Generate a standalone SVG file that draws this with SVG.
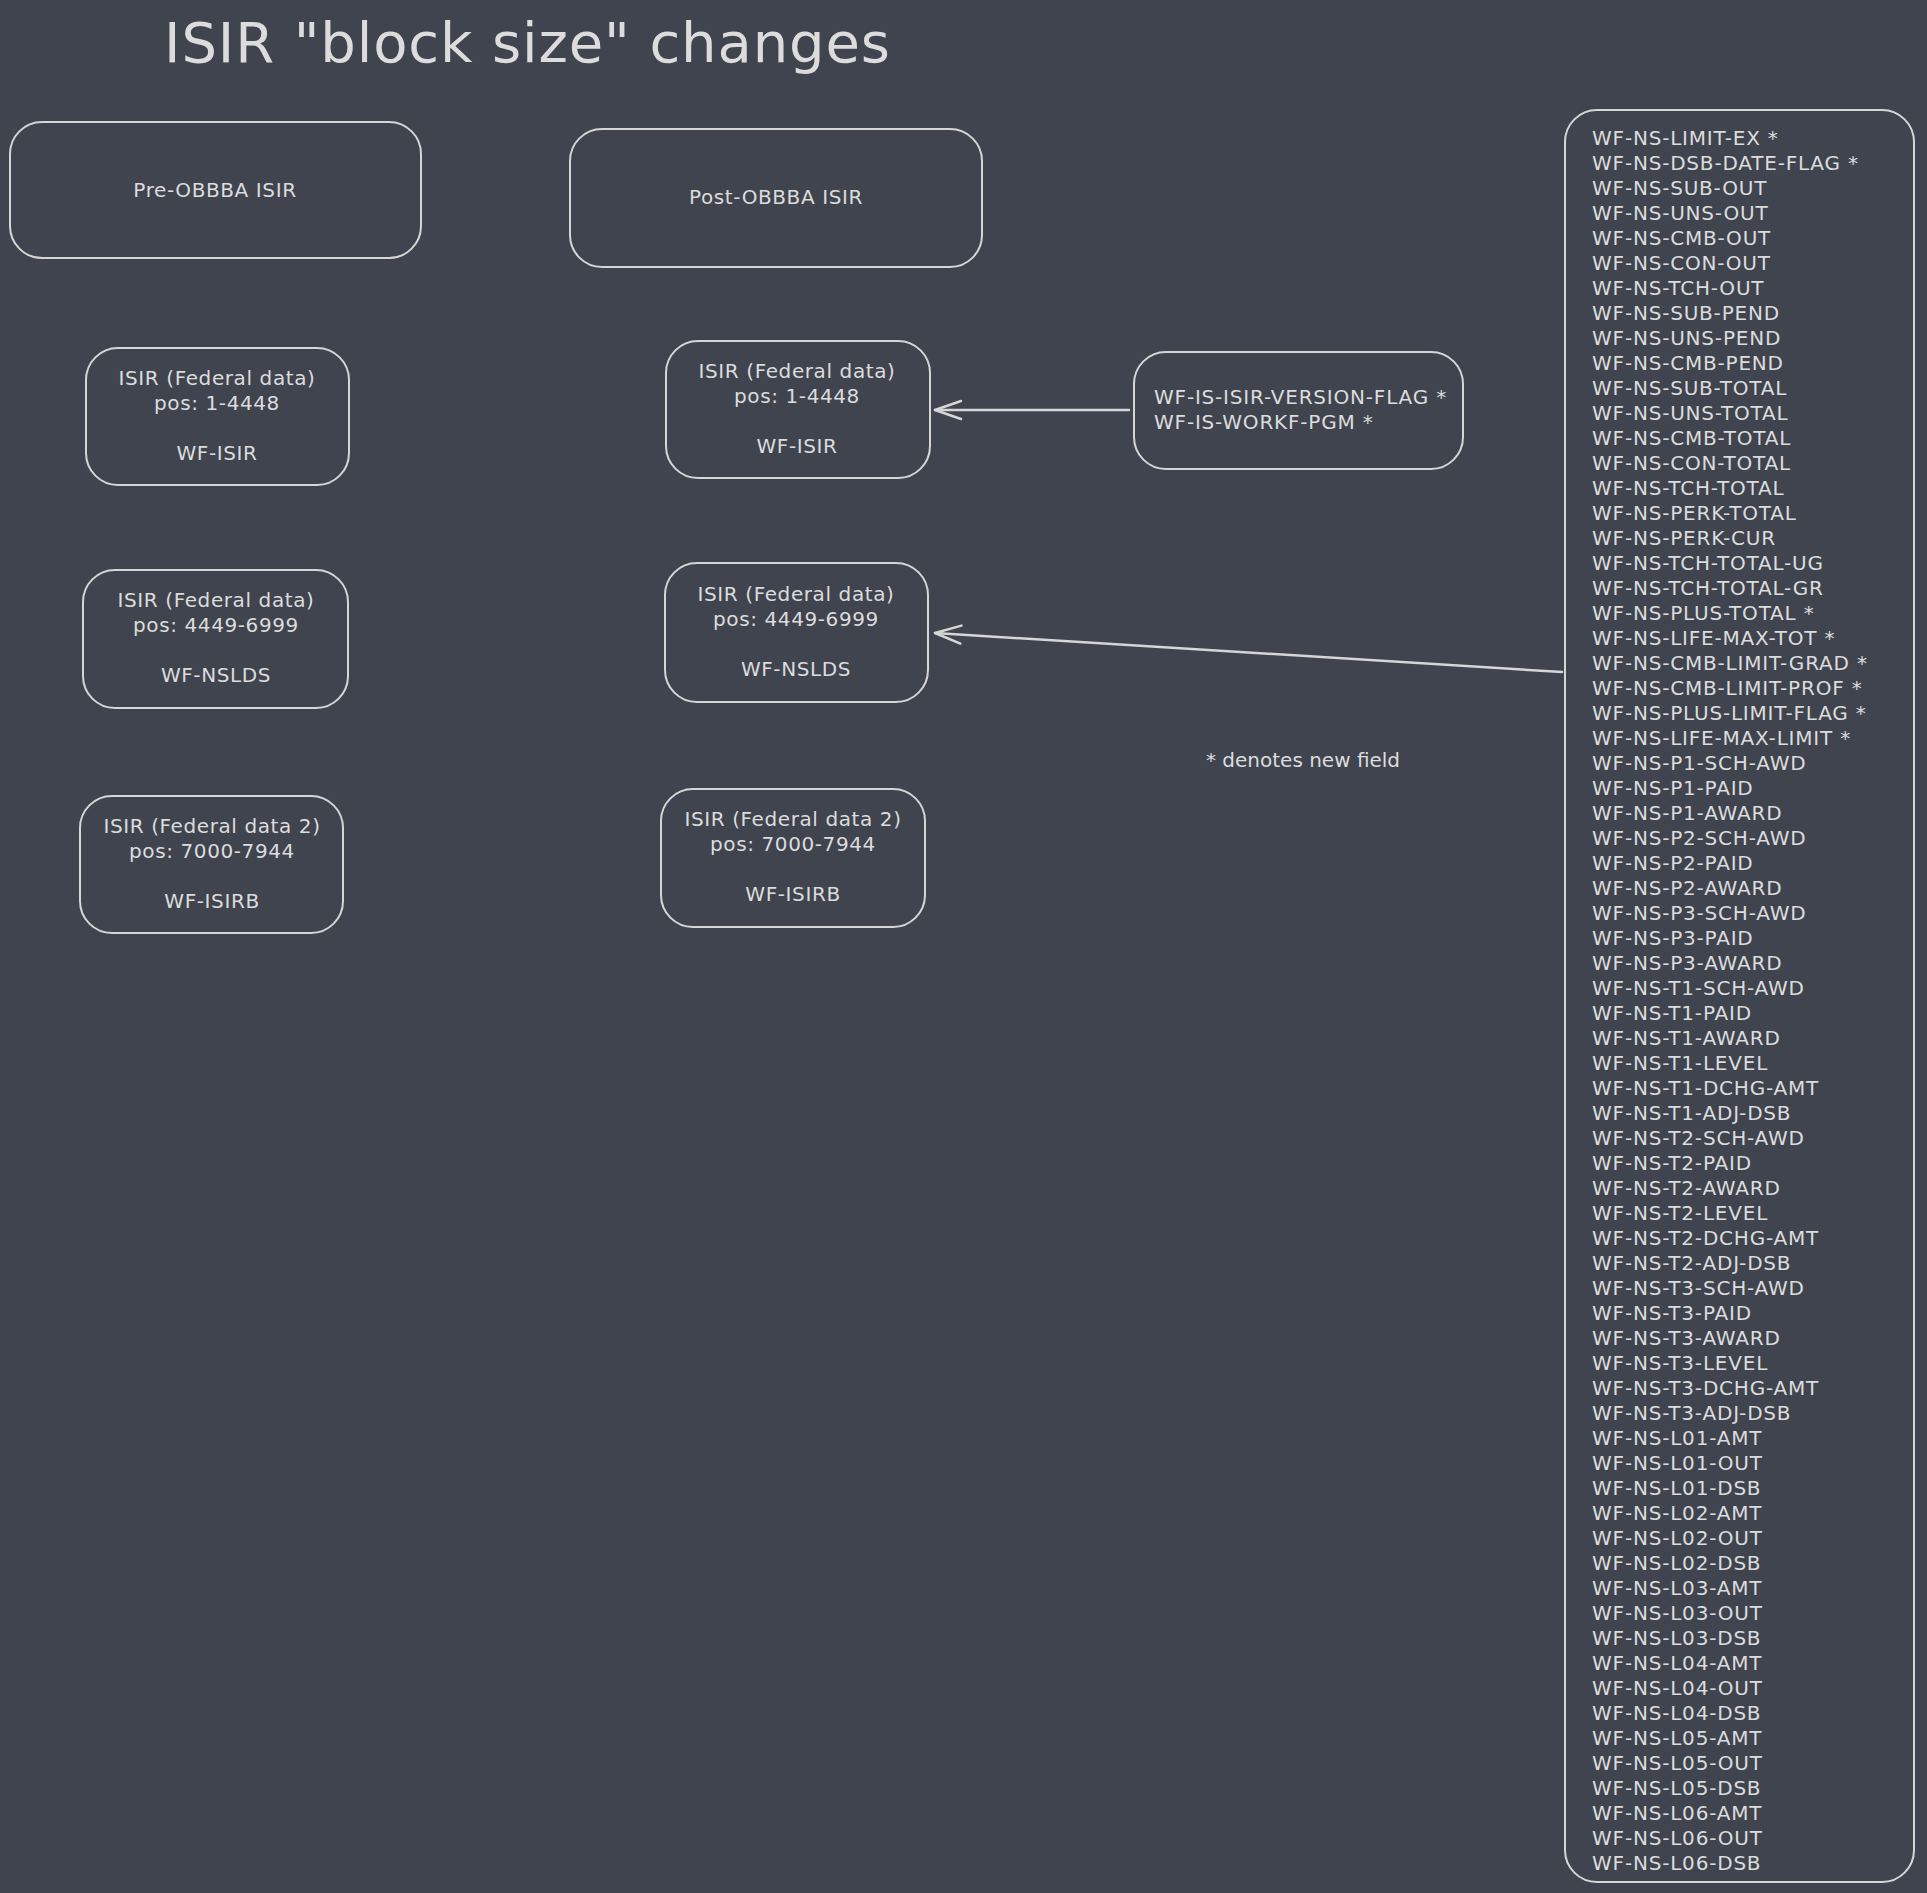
<svg xmlns="http://www.w3.org/2000/svg" width="1927" height="1893" viewBox="0 0 1927 1893">
<style>
.bg{fill:#40444f}
.box{fill:none;stroke:#d6d6d6;stroke-width:2}
.t{font-family:"DejaVu Sans","Liberation Sans",sans-serif;font-size:20px;fill:#dcdcdc;letter-spacing:0.6px}
.u{letter-spacing:0.8px}
.n{letter-spacing:0}
.c{text-anchor:middle}
.title{font-family:"DejaVu Sans","Liberation Sans",sans-serif;font-size:56px;fill:#dcdcdc}
.conn{fill:none;stroke:#d6d6d6;stroke-width:2.5;stroke-linecap:round}
</style>
<defs>
<marker id="arrow" viewBox="-30 -12 34 24" markerWidth="34" markerHeight="24" refX="0" refY="0" orient="auto" markerUnits="userSpaceOnUse">
<path d="M-26,-9 L0,0 L-26,9" fill="none" stroke="#d6d6d6" stroke-width="2.5" stroke-linecap="round" stroke-linejoin="round"/>
</marker>
</defs>
<rect class="bg" x="0" y="0" width="1927" height="1893"/>

<text class="title" x="164" y="62" textLength="726">ISIR "block size" changes</text>

<g id="pre-obbba">
<rect class="box" x="10" y="122" width="411" height="136" rx="32"/>
<text class="t c" x="215" y="197">Pre-OBBBA ISIR</text>
</g>
<g id="post-obbba">
<rect class="box" x="570" y="129" width="412" height="138" rx="32"/>
<text class="t c" x="776" y="204">Post-OBBBA ISIR</text>
</g>

<g id="pre-isir">
<rect class="box" x="86" y="348" width="263" height="137" rx="32"/>
<text class="t c" x="217" y="385">ISIR (Federal data)</text>
<text class="t c" x="217" y="410">pos: 1-4448</text>
<text class="t c" x="217" y="460">WF-ISIR</text>
</g>
<g id="pre-nslds">
<rect class="box" x="83" y="570" width="265" height="138" rx="32"/>
<text class="t c" x="216" y="607">ISIR (Federal data)</text>
<text class="t c" x="216" y="632">pos: 4449-6999</text>
<text class="t c" x="216" y="682">WF-NSLDS</text>
</g>
<g id="pre-isirb">
<rect class="box" x="80" y="796" width="263" height="137" rx="32"/>
<text class="t c" x="212" y="833">ISIR (Federal data 2)</text>
<text class="t c" x="212" y="858">pos: 7000-7944</text>
<text class="t c" x="212" y="908">WF-ISIRB</text>
</g>

<g id="post-isir">
<rect class="box" x="666" y="341" width="264" height="137" rx="32"/>
<text class="t c" x="797" y="378">ISIR (Federal data)</text>
<text class="t c" x="797" y="403">pos: 1-4448</text>
<text class="t c" x="797" y="453">WF-ISIR</text>
</g>
<g id="post-nslds">
<rect class="box" x="665" y="563" width="263" height="139" rx="32"/>
<text class="t c" x="796" y="601">ISIR (Federal data)</text>
<text class="t c" x="796" y="626">pos: 4449-6999</text>
<text class="t c" x="796" y="676">WF-NSLDS</text>
</g>
<g id="post-isirb">
<rect class="box" x="661" y="789" width="264" height="138" rx="32"/>
<text class="t c" x="793" y="826">ISIR (Federal data 2)</text>
<text class="t c" x="793" y="851">pos: 7000-7944</text>
<text class="t c" x="793" y="901">WF-ISIRB</text>
</g>

<g id="isir-new-fields">
<rect class="box" x="1134" y="352" width="329" height="117" rx="32"/>
<text class="t u" x="1154" y="404">WF-IS-ISIR-VERSION-FLAG *</text>
<text class="t u" x="1154" y="429">WF-IS-WORKF-PGM *</text>
</g>

<g id="legend">
<text class="t n" x="1206" y="767">* denotes new field</text>
</g>

<g id="nslds-fields" class="u">
<rect class="box" x="1565" y="110" width="349" height="1772" rx="32"/>
<text class="t u" x="1592" y="145">WF-NS-LIMIT-EX *</text>
<text class="t u" x="1592" y="170">WF-NS-DSB-DATE-FLAG *</text>
<text class="t u" x="1592" y="195">WF-NS-SUB-OUT</text>
<text class="t u" x="1592" y="220">WF-NS-UNS-OUT</text>
<text class="t u" x="1592" y="245">WF-NS-CMB-OUT</text>
<text class="t u" x="1592" y="270">WF-NS-CON-OUT</text>
<text class="t u" x="1592" y="295">WF-NS-TCH-OUT</text>
<text class="t u" x="1592" y="320">WF-NS-SUB-PEND</text>
<text class="t u" x="1592" y="345">WF-NS-UNS-PEND</text>
<text class="t u" x="1592" y="370">WF-NS-CMB-PEND</text>
<text class="t u" x="1592" y="395">WF-NS-SUB-TOTAL</text>
<text class="t u" x="1592" y="420">WF-NS-UNS-TOTAL</text>
<text class="t u" x="1592" y="445">WF-NS-CMB-TOTAL</text>
<text class="t u" x="1592" y="470">WF-NS-CON-TOTAL</text>
<text class="t u" x="1592" y="495">WF-NS-TCH-TOTAL</text>
<text class="t u" x="1592" y="520">WF-NS-PERK-TOTAL</text>
<text class="t u" x="1592" y="545">WF-NS-PERK-CUR</text>
<text class="t u" x="1592" y="570">WF-NS-TCH-TOTAL-UG</text>
<text class="t u" x="1592" y="595">WF-NS-TCH-TOTAL-GR</text>
<text class="t u" x="1592" y="620">WF-NS-PLUS-TOTAL *</text>
<text class="t u" x="1592" y="645">WF-NS-LIFE-MAX-TOT *</text>
<text class="t u" x="1592" y="670">WF-NS-CMB-LIMIT-GRAD *</text>
<text class="t u" x="1592" y="695">WF-NS-CMB-LIMIT-PROF *</text>
<text class="t u" x="1592" y="720">WF-NS-PLUS-LIMIT-FLAG *</text>
<text class="t u" x="1592" y="745">WF-NS-LIFE-MAX-LIMIT *</text>
<text class="t u" x="1592" y="770">WF-NS-P1-SCH-AWD</text>
<text class="t u" x="1592" y="795">WF-NS-P1-PAID</text>
<text class="t u" x="1592" y="820">WF-NS-P1-AWARD</text>
<text class="t u" x="1592" y="845">WF-NS-P2-SCH-AWD</text>
<text class="t u" x="1592" y="870">WF-NS-P2-PAID</text>
<text class="t u" x="1592" y="895">WF-NS-P2-AWARD</text>
<text class="t u" x="1592" y="920">WF-NS-P3-SCH-AWD</text>
<text class="t u" x="1592" y="945">WF-NS-P3-PAID</text>
<text class="t u" x="1592" y="970">WF-NS-P3-AWARD</text>
<text class="t u" x="1592" y="995">WF-NS-T1-SCH-AWD</text>
<text class="t u" x="1592" y="1020">WF-NS-T1-PAID</text>
<text class="t u" x="1592" y="1045">WF-NS-T1-AWARD</text>
<text class="t u" x="1592" y="1070">WF-NS-T1-LEVEL</text>
<text class="t u" x="1592" y="1095">WF-NS-T1-DCHG-AMT</text>
<text class="t u" x="1592" y="1120">WF-NS-T1-ADJ-DSB</text>
<text class="t u" x="1592" y="1145">WF-NS-T2-SCH-AWD</text>
<text class="t u" x="1592" y="1170">WF-NS-T2-PAID</text>
<text class="t u" x="1592" y="1195">WF-NS-T2-AWARD</text>
<text class="t u" x="1592" y="1220">WF-NS-T2-LEVEL</text>
<text class="t u" x="1592" y="1245">WF-NS-T2-DCHG-AMT</text>
<text class="t u" x="1592" y="1270">WF-NS-T2-ADJ-DSB</text>
<text class="t u" x="1592" y="1295">WF-NS-T3-SCH-AWD</text>
<text class="t u" x="1592" y="1320">WF-NS-T3-PAID</text>
<text class="t u" x="1592" y="1345">WF-NS-T3-AWARD</text>
<text class="t u" x="1592" y="1370">WF-NS-T3-LEVEL</text>
<text class="t u" x="1592" y="1395">WF-NS-T3-DCHG-AMT</text>
<text class="t u" x="1592" y="1420">WF-NS-T3-ADJ-DSB</text>
<text class="t u" x="1592" y="1445">WF-NS-L01-AMT</text>
<text class="t u" x="1592" y="1470">WF-NS-L01-OUT</text>
<text class="t u" x="1592" y="1495">WF-NS-L01-DSB</text>
<text class="t u" x="1592" y="1520">WF-NS-L02-AMT</text>
<text class="t u" x="1592" y="1545">WF-NS-L02-OUT</text>
<text class="t u" x="1592" y="1570">WF-NS-L02-DSB</text>
<text class="t u" x="1592" y="1595">WF-NS-L03-AMT</text>
<text class="t u" x="1592" y="1620">WF-NS-L03-OUT</text>
<text class="t u" x="1592" y="1645">WF-NS-L03-DSB</text>
<text class="t u" x="1592" y="1670">WF-NS-L04-AMT</text>
<text class="t u" x="1592" y="1695">WF-NS-L04-OUT</text>
<text class="t u" x="1592" y="1720">WF-NS-L04-DSB</text>
<text class="t u" x="1592" y="1745">WF-NS-L05-AMT</text>
<text class="t u" x="1592" y="1770">WF-NS-L05-OUT</text>
<text class="t u" x="1592" y="1795">WF-NS-L05-DSB</text>
<text class="t u" x="1592" y="1820">WF-NS-L06-AMT</text>
<text class="t u" x="1592" y="1845">WF-NS-L06-OUT</text>
<text class="t u" x="1592" y="1870">WF-NS-L06-DSB</text>
</g>

<g id="connectors">
<line class="conn" x1="1129" y1="410" x2="935" y2="410" marker-end="url(#arrow)"/>
<line class="conn" x1="1562" y1="672" x2="935" y2="633" marker-end="url(#arrow)"/>
</g>
</svg>
